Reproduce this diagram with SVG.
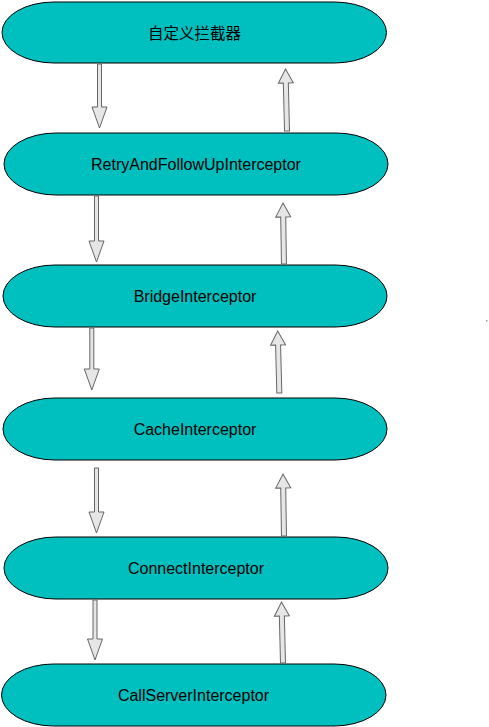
<svg xmlns="http://www.w3.org/2000/svg" width="489" height="727" viewBox="0 0 489 727">
<style>
.node rect{fill:#00BFBF;stroke:#000;stroke-width:1}
.node text{font-family:"Liberation Sans",Arial,"Noto Sans CJK SC",sans-serif;font-size:16px;fill:#000;text-anchor:middle}
.arr{fill:#E6E6E6;stroke:#666;stroke-width:1;stroke-linejoin:miter}
</style>
<rect width="489" height="727" fill="#fff"/>
<g id="n1" class="node"><rect x="2" y="2" width="384.5" height="61" rx="52" ry="30.5"/><text x="194.5" y="38.5" style="font-size:15.5px;font-family:'Noto Sans CJK SC','Liberation Sans',sans-serif">自定义拦截器</text></g>
<g id="n2" class="node"><rect x="4" y="133" width="384" height="62" rx="52" ry="31"/><text x="196" y="170">RetryAndFollowUpInterceptor</text></g>
<g id="n3" class="node"><rect x="3" y="265" width="384" height="62" rx="52" ry="31"/><text x="195" y="302">BridgeInterceptor</text></g>
<g id="n4" class="node"><rect x="3" y="398" width="384" height="62" rx="52" ry="31"/><text x="195" y="435">CacheInterceptor</text></g>
<g id="n5" class="node"><rect x="4" y="537" width="384" height="62" rx="52" ry="31"/><text x="196" y="573.5">ConnectInterceptor</text></g>
<g id="n6" class="node"><rect x="1.5" y="664" width="384.5" height="62" rx="52" ry="31"/><text x="193.5" y="701">CallServerInterceptor</text></g>
<g id="connectors">
<polygon class="arr" points="97.5,64 101.5,64 101.5,107 107,107 99.5,128 92,107 97.5,107"/>
<polygon class="arr" points="94.5,196 98.5,196 98.5,241 104,241 96.5,262 89,241 94.5,241"/>
<polygon class="arr" points="89.8,328 93.8,328 93.8,369 99.3,369 91.8,390 84.3,369 89.8,369"/>
<polygon class="arr" points="94.5,468 98.5,468 98.5,512 104,512 96.5,533 89,512 94.5,512"/>
<polygon class="arr" points="93,600 97,600 97,639 102.5,639 95,660 87.5,639 93,639"/>
<polygon class="arr" transform="rotate(-1.4 285.5 69)" points="285.5,69 293,83 288,83 288,131 283,131 283,83 278,83"/>
<polygon class="arr" transform="rotate(-0.9 283 203)" points="283,203 290.5,217 285.5,217 285.5,264 280.5,264 280.5,217 275.5,217"/>
<polygon class="arr" transform="rotate(-1.5 277.7 331)" points="277.7,331 285.2,345 280.2,345 280.2,393 275.2,393 275.2,345 270.2,345"/>
<polygon class="arr" transform="rotate(-0.9 283 474)" points="283,474 290.5,488 285.5,488 285.5,536 280.5,536 280.5,488 275.5,488"/>
<polygon class="arr" transform="rotate(-1.4 281.5 602)" points="281.5,602 289,616 284,616 284,663 279,663 279,616 274,616"/>
</g>
<rect x="486" y="320" width="1.5" height="1.5" fill="#999"/>
</svg>
